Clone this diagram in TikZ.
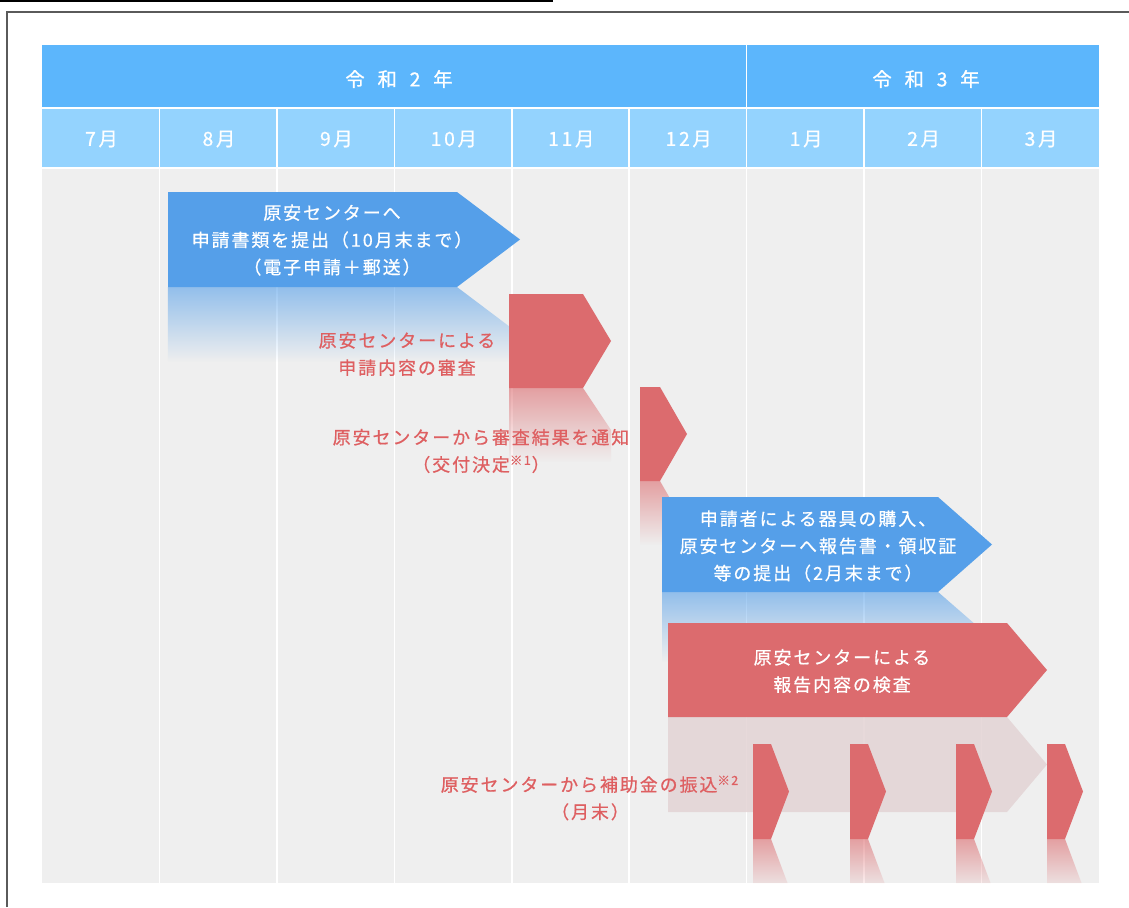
\documentclass[tikz,border=0pt]{standalone}
\usepackage{fontspec}
\setmainfont{Noto Sans CJK JP}[LetterSpace=11, FakeBold=0.7]
\newfontfamily\yearfont{Noto Sans CJK JP}[LetterSpace=44, FakeBold=0.9]
\newfontfamily\monthfont{Noto Sans CJK JP}[LetterSpace=14, FakeBold=0.8]
\usepackage{tikz}
\usetikzlibrary{fadings}

\definecolor{yearblue}{HTML}{5CB6FC}
\definecolor{monthblue}{HTML}{94D3FE}
\definecolor{bodygray}{HTML}{EFEFEF}
\definecolor{arrowblue}{HTML}{559FE9}
\definecolor{arrowred}{HTML}{DC6B6E}
\definecolor{textred}{HTML}{DE5F61}
\definecolor{shadowpink}{HTML}{E3D3D4}
\definecolor{framegray}{HTML}{5A5A5A}

\tikzfading[name=fadedown, top color=transparent!40, bottom color=transparent!100]
\tikzfading[name=fadeshort, top color=transparent!40, bottom color=transparent!88]

\tikzset{
  yeartext/.style={text=white, font=\yearfont\fontsize{11}{13}\selectfont},
  monthtext/.style={text=white, font=\monthfont\fontsize{11}{13}\selectfont},
  boxtext/.style={text=white, align=center, font=\fontsize{10.2}{15.5}\selectfont},
  redtext/.style={text=textred, align=center, font=\fontsize{10.2}{15.5}\selectfont},
  divider/.style={white, line width=0.3mm},
  bluearrow/.style={fill=arrowblue},
  redarrow/.style={fill=arrowred},
  bluerefl/.style={fill=arrowblue, path fading=fadedown},
  redrefl/.style={fill=arrowred, path fading=fadedown},
}

\begin{document}
\begin{tikzpicture}[x=0.2mm, y=-0.2mm]
	\useasboundingbox (0,0) rectangle (1129,907);

	% frame and top bar
	\draw[line width=0.5mm] (0,1.2) -- (553,1.2);
	\draw[framegray, line width=0.25mm] (7,907) -- (7,12) -- (1129,12);

	% header rows and body
	\fill[yearblue] (42,45) rectangle (1099,107);
	\fill[monthblue] (42,109) rectangle (1099,167);
	\fill[bodygray] (42,169) rectangle (1099,883);

	\foreach \k in {1,...,8}
		\draw[divider] (42+117.44*\k,109) -- (42+117.44*\k,883);
	\draw[divider] (746.6,45) -- (746.6,107);

	\node[yeartext] (y2) at (399,79) {令 和 2 年};
	\node[yeartext] (y3) at (926,79) {令 和 3 年};

	\foreach \m [count=\k from 0] in {7,8,9,10,11,12,1,2,3}
		\node[monthtext] (m\k) at (42+117.44*\k+59.5,139) {{\m}月};

	% reflections
	\fill[bluerefl] (168,287) -- (457,287) -- (520,334.5) -- (520,362) -- (168,362) -- cycle;
	\fill[redrefl] (509,388) -- (583,388) -- (611,430) -- (611,462) -- (509,462) -- cycle;
	\fill[redrefl] (640,481) -- (660,481) -- (687,528) -- (687,545) -- (640,545) -- cycle;
	\fill[bluerefl] (662,592) -- (938,592) -- (992,639) -- (992,662) -- (662,662) -- cycle;
	\fill[shadowpink, opacity=0.85] (668,717) -- (1007,717) -- (1047,764.5) -- (1007,812) -- (668,812) -- cycle;

	% arrows
	\fill[bluearrow] (168,192) -- (457,192) -- (520,239.5) -- (457,287) -- (168,287) -- cycle;
	\fill[redarrow] (509,294) -- (583,294) -- (611,341) -- (583,388) -- (509,388) -- cycle;
	\fill[redarrow] (640,387) -- (660,387) -- (687,434) -- (660,481) -- (640,481) -- cycle;
	\fill[bluearrow] (662,497) -- (938,497) -- (992,544.5) -- (938,592) -- (662,592) -- cycle;
	\fill[redarrow] (668,623) -- (1007,623) -- (1047,670) -- (1007,717) -- (668,717) -- cycle;

	% monthly payments
	\foreach \x in {753,850,956,1047} {
		\fill[redarrow] (\x,744) -- ++(18,0) -- ++(18,47.5) -- ++(-18,47.5) -- ++(-18,0) -- cycle;
		\fill[fill=arrowred, path fading=fadeshort] (\x,839) -- ++(18,0) -- ++(16.5,44) -- ++(-34.5,0) -- cycle;
	}

	% texts
	\node[boxtext] (t1) at (332,240) {原安センターへ\\申請書類を提出（10月末まで）\\（電子申請＋郵送）};
	\node[redtext] (t2) at (407,354) {原安センターによる\\申請内容の審査};
	\node[redtext] (t3) at (481,451) {原安センターから審査結果を通知\\（交付決定\textsuperscript{※1}）};
	\node[boxtext] (t4) at (818,546) {申請者による器具の購入、\\原安センターへ報告書・領収証\\等の提出（2月末まで）};
	\node[boxtext] (t5) at (842,671) {原安センターによる\\報告内容の検査};
	\node[redtext] (t6) at (590,798) {原安センターから補助金の振込\textsuperscript{※2}\\（月末）};
\end{tikzpicture}
\end{document}
